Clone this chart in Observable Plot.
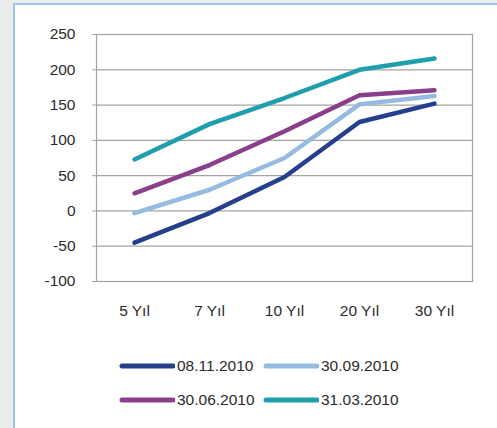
<!DOCTYPE html>
<html>
<head>
<meta charset="utf-8">
<script src="https://cdn.jsdelivr.net/npm/d3@7"></script>
<script src="https://cdn.jsdelivr.net/npm/@observablehq/plot@0.6"></script>
<style>
  html, body { margin: 0; padding: 0; }
  body { width: 497px; height: 428px; background: #ebecec; overflow: hidden; position: relative; font-family: "Liberation Sans", Arial, sans-serif; }
  #panel { position: absolute; left: 13px; top: 3px; width: 500px; height: 440px; background: #fff; border: 2px solid #9fc4e8; box-sizing: border-box; }
  #chart { position: absolute; left: 0; top: 0; }
  .leg { position: absolute; display: flex; align-items: center; font-size: 15.5px; color: #2b2b2b; }
  .leg svg { margin-right: 2px; }
</style>
</head>
<body>
<div id="panel"></div>
<div id="chart"></div>
<div id="legend"></div>
<script>
const categories = ["5 Yıl", "7 Yıl", "10 Yıl", "20 Yıl", "30 Yıl"];
const seriesNames = ["08.11.2010", "30.09.2010", "30.06.2010", "31.03.2010"];
const s0811 = [-45, -3, 48, 126, 152];
const s3009 = [-3, 30, 75, 151, 163];
const s3006 = [25, 65, 113, 164, 171];
const s3103 = [73, 123, 160, 200, 216];
const yTicks = [-100, -50, 0, 50, 100, 150, 200, 250];
const colors = ["#243f8b", "#95bbe0", "#8a3f8b", "#1f9eab"];

const allSeries = [s0811, s3009, s3006, s3103];
const data = [];
allSeries.forEach((vals, si) => vals.forEach((v, i) => data.push({series: seriesNames[si], cat: categories[i], value: v})));

const chart = Plot.plot({
  width: 497,
  height: 340,
  marginLeft: 96,
  marginRight: 25,
  marginTop: 34,
  marginBottom: 59,
  style: {fontFamily: "Liberation Sans, Arial, sans-serif", fontSize: "15.5px", color: "#2b2b2b", background: "transparent"},
  x: {type: "point", domain: categories, padding: 0.5, label: null},
  y: {domain: [-100, 250], label: null},
  color: {domain: seriesNames, range: colors},
  marks: [
    Plot.ruleY(yTicks, {stroke: "#a3a3a3", strokeWidth: 1.2}),
    Plot.frame({stroke: "#a3a3a3", strokeWidth: 1.2}),
    Plot.axisY({ticks: yTicks, tickSize: 4, tickPadding: 17, stroke: "#a3a3a3", fill: "#2b2b2b", fontSize: 15.5, tickFormat: d => d}),
    Plot.axisX({tickSize: 0, tickPadding: 23, fill: "#2b2b2b", fontSize: 15.5}),
    Plot.line(data, {x: "cat", y: "value", z: "series", stroke: "series", strokeWidth: 4.5, strokeLinecap: "round", strokeLinejoin: "round"})
  ]
});
document.getElementById("chart").appendChild(chart);

const leg = document.getElementById("legend");
const pos = [[120, 366], [264, 366], [120, 400], [264, 400]];
seriesNames.forEach((name, i) => {
  const d = document.createElement("div");
  d.className = "leg";
  d.style.left = (pos[i][0] - 3) + "px";
  d.style.top = (pos[i][1] - 10) + "px";
  d.innerHTML = `<svg width="58" height="20"><line x1="5" y1="10" x2="56" y2="10" stroke="${colors[i]}" stroke-width="5" stroke-linecap="round"/></svg><span>${name}</span>`;
  leg.appendChild(d);
});
</script>
</body>
</html>
